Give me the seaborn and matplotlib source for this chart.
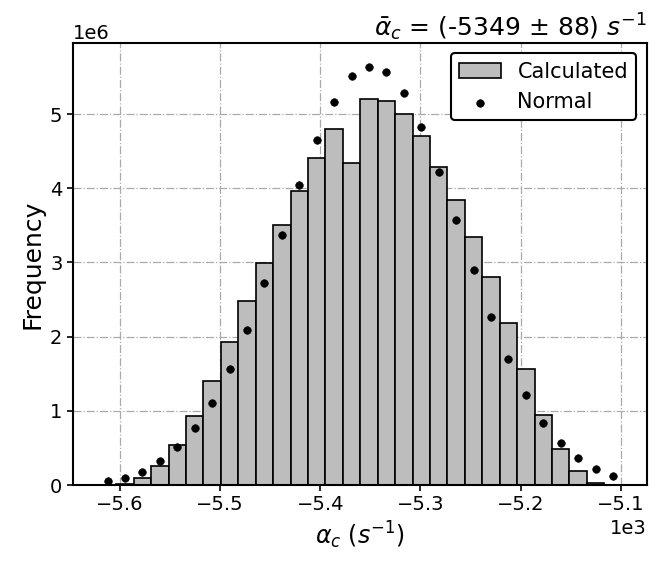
import numpy as np
import pandas as pd
import matplotlib
matplotlib.use("Agg")
import matplotlib.pyplot as plt
import seaborn as sns

# Histogram range (s^-1), 30 bins, counts in units of 1e6
bin_range = (-5621, -5099)
n_bins = 30
calc_counts = [0, 0.02, 0.10, 0.26, 0.54, 0.935, 1.40, 1.93, 2.48, 2.99,
               3.51, 3.96, 4.41, 4.80, 4.34, 5.20, 5.18, 5.00, 4.70, 4.29,
               3.84, 3.35, 2.81, 2.19, 1.56, 0.95, 0.48, 0.19, 0.03, 0]
normal_counts = [0.054, 0.10, 0.18, 0.32, 0.51, 0.77, 1.11, 1.56, 2.09, 2.72,
                 3.37, 4.04, 4.65, 5.16, 5.51, 5.63, 5.57, 5.28, 4.82, 4.22,
                 3.57, 2.90, 2.26, 1.70, 1.21, 0.84, 0.56, 0.36, 0.22, 0.12]
title_text = r"$\bar{\alpha}_c$ = (-5349 ± 88) $s^{-1}$"

bin_edges = np.linspace(bin_range[0], bin_range[1], n_bins + 1)
centers = (bin_edges[:-1] + bin_edges[1:]) / 2
df = pd.DataFrame({
    "alpha": centers,
    "calc": np.array(calc_counts) * 1e6,
    "normal": np.array(normal_counts) * 1e6,
})

fig, ax = plt.subplots(figsize=(6.62, 5.64), dpi=100)
fig.subplots_adjust(left=0.110, right=0.977, top=0.924, bottom=0.140)

sns.histplot(data=df, x="alpha", weights="calc", bins=n_bins, binrange=bin_range,
             ax=ax, color="#bdbdbd", edgecolor="black", linewidth=1.2, alpha=1,
             label="Calculated", zorder=2)
sns.scatterplot(data=df, x="alpha", y="normal", ax=ax, color="black",
                s=30, edgecolor="black", label="Normal", zorder=3)

ax.set_xlim(-5647, -5074)
ax.set_ylim(0, 5.96e6)
ax.ticklabel_format(axis="both", style="sci", scilimits=(0, 0))
ax.grid(True, linestyle="-.", color="#aaaaaa", linewidth=0.9, zorder=0)
ax.set_axisbelow(True)

ax.set_xlabel(r"$\alpha_c$ $(s^{-1})$", fontsize=17)
ax.set_ylabel("Frequency", fontsize=18)
ax.set_title(title_text, loc="right", fontsize=18, pad=5)
ax.tick_params(labelsize=14, width=1.2, length=4)
ax.xaxis.get_offset_text().set_fontsize(14)
ax.yaxis.get_offset_text().set_fontsize(14)
for s in ax.spines.values():
    s.set_linewidth(1.5)

handles, labels = ax.get_legend_handles_labels()
order = [labels.index("Calculated"), labels.index("Normal")]
leg = ax.legend([handles[i] for i in order], [labels[i] for i in order],
                loc="upper right", fontsize=15, frameon=True, framealpha=1)
leg.get_frame().set_edgecolor("black")
leg.get_frame().set_linewidth(1.5)

fig.savefig("out.png", dpi=100)
